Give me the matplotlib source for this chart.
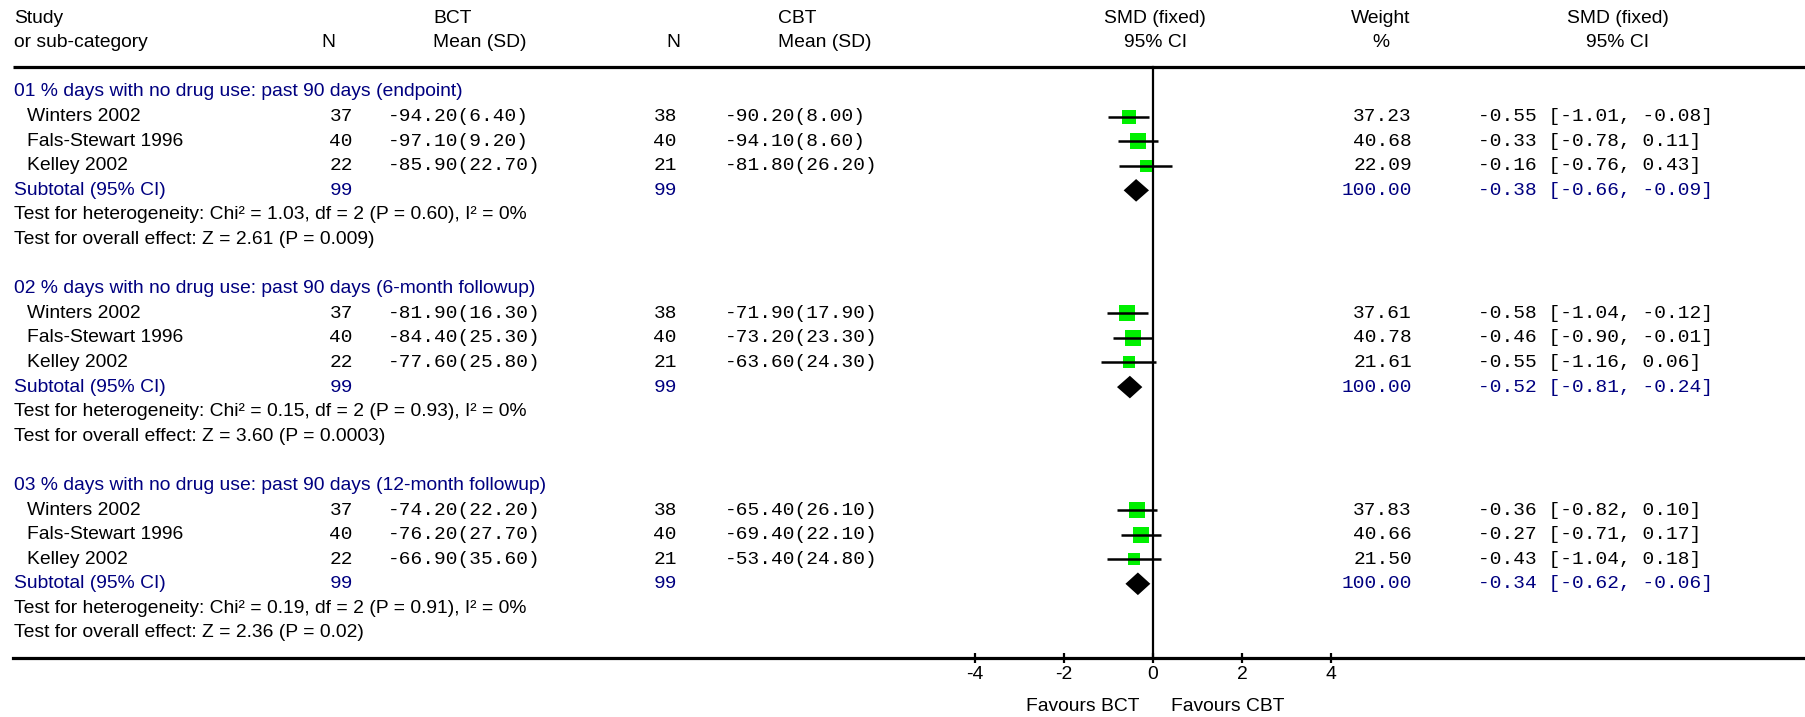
import matplotlib
matplotlib.use("Agg")
import matplotlib.pyplot as plt
import numpy as np

plt.rcParams['axes.unicode_minus'] = False

# ---------------- data ----------------
group_titles = [
    "01 % days with no drug use: past 90 days (endpoint)",
    "02 % days with no drug use: past 90 days (6-month followup)",
    "03 % days with no drug use: past 90 days (12-month followup)",
]
studies = ["Winters 2002", "Fals-Stewart 1996", "Kelley 2002"]

bct_n = [[37, 40, 22], [37, 40, 22], [37, 40, 22]]
bct_mean = [[-94.20, -97.10, -85.90], [-81.90, -84.40, -77.60], [-74.20, -76.20, -66.90]]
bct_sd = [[6.40, 9.20, 22.70], [16.30, 25.30, 25.80], [22.20, 27.70, 35.60]]
cbt_n = [[38, 40, 21], [38, 40, 21], [38, 40, 21]]
cbt_mean = [[-90.20, -94.10, -81.80], [-71.90, -73.20, -63.60], [-65.40, -69.40, -53.40]]
cbt_sd = [[8.00, 8.60, 26.20], [17.90, 23.30, 24.30], [26.10, 22.10, 24.80]]

weights = [[37.23, 40.68, 22.09], [37.61, 40.78, 21.61], [37.83, 40.66, 21.50]]
smd = [[-0.55, -0.33, -0.16], [-0.58, -0.46, -0.55], [-0.36, -0.27, -0.43]]
ci_lo = [[-1.01, -0.78, -0.76], [-1.04, -0.90, -1.16], [-0.82, -0.71, -1.04]]
ci_hi = [[-0.08, 0.11, 0.43], [-0.12, -0.01, 0.06], [0.10, 0.17, 0.18]]

sub_bct_n = [99, 99, 99]
sub_cbt_n = [99, 99, 99]
sub_weight = [100.00, 100.00, 100.00]
sub_smd = [-0.38, -0.52, -0.34]
sub_lo = [-0.66, -0.81, -0.62]
sub_hi = [-0.09, -0.24, -0.06]

het_chi2 = [1.03, 0.15, 0.19]
het_df = [2, 2, 2]
het_p = ["0.60", "0.93", "0.91"]
het_i2 = [0, 0, 0]
overall_z = [2.61, 3.60, 2.36]
overall_p = ["0.009", "0.0003", "0.02"]

x_ticks = [-4, -2, 0, 2, 4]

# ---------------- styling ----------------
W, H = 1805, 717
fig = plt.figure(figsize=(W / 100, H / 100), dpi=100)
NAVY = "#000080"
GREEN = "#00f000"
SANS = "Liberation Sans"
MONO = "Liberation Mono"
FS = 13.9
FM = 14.0

row_px0 = 92.0
row_step = 24.59
r_top = -row_px0 / row_step
r_bot = (H - row_px0) / row_step

# text axes: x in pixels, y in rows
tax = fig.add_axes([0, 0, 1, 1])
tax.set_xlim(0, W)
tax.set_ylim(r_bot, r_top)
tax.axis("off")

# forest axes: x in SMD units, y in rows
zero_px = 1153.0
unit_px = 44.45
fax = fig.add_axes([0, 0, 1, 1])
fax.set_xlim(-zero_px / unit_px, (W - zero_px) / unit_px)
fax.set_ylim(r_bot, r_top)
fax.patch.set_visible(False)


def sans(x, r, s, ha="left", color="black"):
    tax.text(x, r, s, ha=ha, va="center", fontsize=FS, family=SANS, color=color)


def mono(x, r, s, ha="left", color="black"):
    tax.text(x, r, s, ha=ha, va="center", fontsize=FM, family=MONO, color=color)


# header
sans(14, -3, "Study")
sans(14, -2, "or sub-category")
sans(328, -2, "N", ha="center")
sans(433, -3, "BCT")
sans(433, -2, "Mean (SD)")
sans(673, -2, "N", ha="center")
sans(778, -3, "CBT")
sans(778, -2, "Mean (SD)")
sans(1155, -3, "SMD (fixed)", ha="center")
sans(1155, -2, "95% CI", ha="center")
sans(1381, -3, "Weight", ha="center")
sans(1381, -2, "%", ha="center")
sans(1618, -3, "SMD (fixed)", ha="center")
sans(1618, -2, "95% CI", ha="center")

tax.plot([13, W], [-1, -1], color="black", lw=2.3, solid_capstyle="butt")

for g in range(3):
    base = 8 * g
    sans(14, base, group_titles[g], color=NAVY)
    for i in range(3):
        r = base + 1 + i
        sans(27, r, studies[i])
        mono(353, r, f"{bct_n[g][i]}", ha="right")
        mono(388, r, f"{bct_mean[g][i]:.2f}({bct_sd[g][i]:.2f})")
        mono(677, r, f"{cbt_n[g][i]}", ha="right")
        mono(725, r, f"{cbt_mean[g][i]:.2f}({cbt_sd[g][i]:.2f})")
        mono(1412, r, f"{weights[g][i]:.2f}", ha="right")
        mono(1478, r, f"{smd[g][i]:.2f} [{ci_lo[g][i]:.2f}, {ci_hi[g][i]:.2f}]")
        # forest marks
        side_px = 2.45 * np.sqrt(weights[g][i])
        fax.scatter([smd[g][i]], [r], marker="s", s=(side_px * 0.72) ** 2,
                    color=GREEN, linewidths=0, zorder=3)
        fax.plot([ci_lo[g][i], ci_hi[g][i]], [r, r], color="black", lw=1.8,
                 solid_capstyle="butt", zorder=4)
    rs = base + 4
    sans(14, rs, "Subtotal (95% CI)", color=NAVY)
    mono(353, rs, f"{sub_bct_n[g]}", ha="right", color=NAVY)
    mono(677, rs, f"{sub_cbt_n[g]}", ha="right", color=NAVY)
    mono(1412, rs, f"{sub_weight[g]:.2f}", ha="right", color=NAVY)
    mono(1478, rs, f"{sub_smd[g]:.2f} [{sub_lo[g]:.2f}, {sub_hi[g]:.2f}]", color=NAVY)
    hh = 0.46
    fax.fill([sub_lo[g], sub_smd[g], sub_hi[g], sub_smd[g]],
             [rs, rs - hh, rs, rs + hh], color="black", lw=0, zorder=4)
    sans(14, base + 5,
         f"Test for heterogeneity: Chi\u00b2 = {het_chi2[g]:.2f}, df = {het_df[g]} "
         f"(P = {het_p[g]}), I\u00b2 = {het_i2[g]}%")
    sans(14, base + 6, f"Test for overall effect: Z = {overall_z[g]:.2f} (P = {overall_p[g]})")

# vertical line of no effect
fax.plot([0, 0], [-1, 23], color="black", lw=1.6, zorder=2)

# x axis
for side in ["top", "left", "right"]:
    fax.spines[side].set_visible(False)
fax.spines["bottom"].set_position(("data", 23))
fax.spines["bottom"].set_linewidth(2.3)
fax.spines["bottom"].set_bounds((13 - zero_px) / unit_px, (W - zero_px) / unit_px)
fax.set_yticks([])
fax.set_xticks(x_ticks)
fax.set_xticklabels([str(t) for t in x_ticks])
fax.tick_params(axis="x", direction="inout", length=6.5, width=1.6, pad=3,
                labelsize=FS)
for lab in fax.get_xticklabels():
    lab.set_family(SANS)

fax.text(-0.3, 25, "Favours BCT", ha="right", va="center", fontsize=FS, family=SANS)
fax.text(0.4, 25, "Favours CBT", ha="left", va="center", fontsize=FS, family=SANS)

fig.savefig("out.png", dpi=100)
